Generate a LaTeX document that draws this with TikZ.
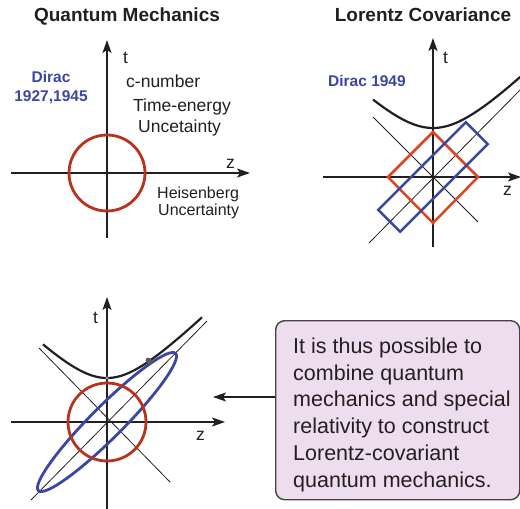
\documentclass[tikz,border=0pt]{standalone}
\usepackage{fontspec}
\setmainfont{Liberation Sans}
\usetikzlibrary{arrows.meta}
\definecolor{qred}{HTML}{B8321E}
\definecolor{lred}{HTML}{DC4422}
\definecolor{qblue}{HTML}{3B46A3}
\definecolor{boxfill}{HTML}{EEDDEE}
\definecolor{ink}{HTML}{231F20}
\begin{document}
\begin{tikzpicture}[x=1pt,y=-1pt,
  axis/.style={draw=ink, line width=1.8pt, -{Stealth[length=13pt,width=9pt,inset=3pt]}},
  conn/.style={draw=ink, line width=1.6pt, -{Stealth[length=13pt,width=9pt,inset=3pt]}},
  thinline/.style={draw=ink, line width=0.8pt},
  hyp/.style={draw=ink, line width=2.2pt},
  ttl/.style={font=\fontsize{19}{22}\selectfont\bfseries, text=ink, inner sep=0pt, anchor=base},
  lab/.style={font=\fontsize{17.5}{20}\selectfont, text=ink, inner sep=0pt, anchor=base west},
  smalllab/.style={font=\fontsize{16}{19}\selectfont, text=ink, inner sep=0pt, anchor=base west},
  dirac/.style={font=\fontsize{15.5}{18}\selectfont\bfseries, text=qblue, inner sep=0pt, anchor=base},
]
\useasboundingbox (0,0) rectangle (520,509);
\clip (0,0) rectangle (520,509);

% ---------- Panel 1 ----------
\begin{scope}[shift={(107,173)}, y={(0,1pt)}]
  \coordinate (p1tb) at (0,-65);
  \coordinate (p1tt) at (0,133);
  \coordinate (p1zl) at (-96,0);
  \coordinate (p1zr) at (143,0);
  \draw[axis] (p1tb) -- (p1tt);
  \draw[axis] (p1zl) -- (p1zr);
  \draw[qred, line width=2.8pt] (0,0) circle[radius=38];
\end{scope}
\node[ttl] (title1) at (127,21) {Quantum Mechanics};
\node[lab] (p1t) at (123,63) {t};
\node[lab] (p1z) at (226,168) {z};
\node[dirac] (p1d1) at (51,82) {Dirac};
\node[dirac] (p1d2) at (51,101) {1927,1945};
\node[lab] (cnum) at (126,87) {c-number};
\node[lab] (tien) at (133,111) {Time-energy};
\node[lab] (unc1) at (138,132) {Uncetainty};
\node[smalllab] (heis) at (157,198) {Heisenberg};
\node[smalllab] (unc2) at (158,215) {Uncertainty};

% ---------- Panel 2 ----------
\begin{scope}[shift={(433,177)}, y={(0,1pt)}]
  \coordinate (p2tb) at (0,-70);
  \coordinate (p2tt) at (0,139);
  \coordinate (p2zl) at (-110,0);
  \coordinate (p2zr) at (88,0);
  \coordinate (p2a1) at (-60,60);
  \coordinate (p2a2) at (45,-45);
  \coordinate (p2b1) at (-64,-66);
  \coordinate (p2b2) at (92,92);
  \draw[thinline] (p2a1) -- (p2a2);
  \draw[thinline] (p2b1) -- (p2b2);
  \draw[axis] (p2tb) -- (p2tt);
  \draw[axis] (p2zl) -- (p2zr);
  \draw[hyp] plot[domain=-60:92, samples=70, smooth] (\x, {sqrt(49*49+\x*\x)});
  \draw[lred, line width=2.5pt] (0,45) -- (45,0) -- (0,-46) -- (-45,0) -- cycle;
  \draw[qblue, line width=2.5pt] (54.8,32.88) -- (32.88,54.8) -- (-54.8,-32.88) -- (-32.88,-54.8) -- cycle;
\end{scope}
\node[ttl] (title2) at (423,21) {Lorentz Covariance};
\node[lab] (p2t) at (443,63) {t};
\node[lab] (p2z) at (503,195) {z};
\node[dirac, anchor=base west] (p2d) at (328,86) {Dirac 1949};

% ---------- Panel 3 ----------
\begin{scope}[shift={(107,422)}, y={(0,1pt)}]
  \coordinate (p3tb) at (0,-90);
  \coordinate (p3tt) at (0,125);
  \coordinate (p3zl) at (-96,0);
  \coordinate (p3zr) at (118,0);
  \coordinate (p3a1) at (-68,74);
  \coordinate (p3a2) at (63,-60);
  \coordinate (p3b1) at (-76,-78);
  \coordinate (p3b2) at (100,101);
  \draw[thinline] (p3a1) -- (p3a2);
  \draw[thinline] (p3b1) -- (p3b2);
  \draw[axis] (p3tb) -- (p3tt);
  \draw[axis] (p3zl) -- (p3zr);
  \draw[hyp] plot[domain=-64:95, samples=70, smooth] (\x, {sqrt(44*44+\x*\x)});
  \draw[qblue, line width=2.8pt, rotate=45] (0,0) ellipse[x radius=97, y radius=16];
  \draw[qred, line width=2.8pt] (0,0) circle[radius=39];
  \fill[ink!75, rotate around={40:(42,60.8)}] (42,60.8) ellipse[x radius=3, y radius=4];
  \fill[ink!45] (0,44) circle[radius=1.6];
\end{scope}
\node[lab] (p3t) at (93,323) {t};
\node[lab] (p3z) at (196,440) {z};

% ---------- Text box ----------
\node[draw=ink!85, line width=1.4pt, fill=boxfill, rounded corners=9pt,
      minimum width=244pt, minimum height=179pt, anchor=north west, inner sep=0pt] (box) at (275,320) {};
\node[anchor=north west, align=left, inner sep=0pt, text=ink,
      font=\fontsize{21.5}{26.8}\selectfont] (boxtext) at (293,337.5)
  {It is thus possible to\\combine quantum\\mechanics and special\\relativity to construct\\Lorentz-covariant\\quantum mechanics.};
\coordinate (aend) at (213,397);
\draw[conn] (box.west |- aend) -- (aend);
\end{tikzpicture}
\end{document}
